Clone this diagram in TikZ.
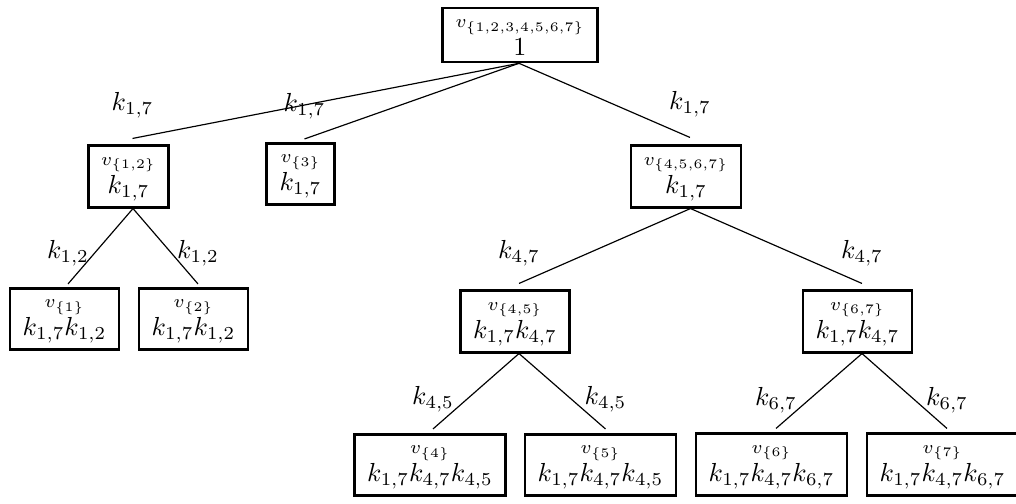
\documentclass[tikz,border=0pt]{standalone}
\usetikzlibrary{calc}
\newcommand\vset[1]{\rule{0pt}{5pt}$\scriptstyle v_{\{#1\}}$}
\begin{document}
\begin{tikzpicture}[x=0.3833pt,y=-0.3833pt,
  box/.style={draw,line width=1pt,inner xsep=4.9pt,inner ysep=2.5pt,align=center,
    font=\fontsize{10}{10.7}\selectfont},
  edge/.style={line width=0.45pt},
  lbl/.style={inner sep=0pt}]
\useasboundingbox (0,0) rectangle (1016,504);
% nodes
\node[box] (root) at (520,35) {\vset{1,2,3,4,5,6,7}\\$1$};
\node[box] (v12) at (128.5,176.5) {\vset{1,2}\\$k_{1,7}$};
\node[box] (v3) at (300.5,174) {\vset{3}\\$k_{1,7}$};
\node[box] (v4567) at (686,176.5) {\vset{4,5,6,7}\\$k_{1,7}$};
\node[box] (v1) at (64.5,319) {\vset{1}\\$k_{1,7}k_{1,2}$};
\node[box] (v2) at (193.5,319) {\vset{2}\\$k_{1,7}k_{1,2}$};
\node[box] (v45) at (515,321.5) {\vset{4,5}\\$k_{1,7}k_{4,7}$};
\node[box] (v67) at (857.5,321.5) {\vset{6,7}\\$k_{1,7}k_{4,7}$};
\node[box] (v4) at (430,465) {\vset{4}\\$k_{1,7}k_{4,7}k_{4,5}$};
\node[box] (v5) at (600.5,465) {\vset{5}\\$k_{1,7}k_{4,7}k_{4,5}$};
\node[box] (v6) at (771.5,464.5) {\vset{6}\\$k_{1,7}k_{4,7}k_{6,7}$};
\node[box] (v7) at (942.5,464.5) {\vset{7}\\$k_{1,7}k_{4,7}k_{6,7}$};
% level 1 edges
\draw[edge] ($(root.south)+(-1,0)$) -- ($(v12.north)+(4,-6)$) coordinate (t12);
\draw[edge] ($(root.south)+(-1,0)$) -- ($(v3.north)+(4,-3)$) coordinate (t3);
\draw[edge] ($(root.south)+(-1,0)$) -- ($(v4567.north)+(4,-7)$) coordinate (t4567);
\node[lbl] (l12) at ($(t12)+(0,-33)$) {$k_{1,7}$};
\node[lbl] (l3) at ($(t3)+(0,-33)$) {$k_{1,7}$};
\node[lbl] (l4567) at ($(t4567)+(0,-33)$) {$k_{1,7}$};
% level 2 edges
\draw[edge] ($(v12.south)+(4.5,0)$) -- ($(v1.north)+(3.5,-3)$) coordinate (t1);
\draw[edge] ($(v12.south)+(4.5,0)$) -- ($(v2.north)+(4.5,-3)$) coordinate (t2);
\draw[edge] ($(v4567.south)+(4.5,0)$) -- ($(v45.north)+(4,-6)$) coordinate (t45);
\draw[edge] ($(v4567.south)+(4.5,0)$) -- ($(v67.north)+(4.5,-6)$) coordinate (t67);
\node[lbl] (l1) at ($(t1)+(0,-30.5)$) {$k_{1,2}$};
\node[lbl] (l2) at ($(t2)+(0,-30.5)$) {$k_{1,2}$};
\node[lbl] (l45) at ($(t45)+(0,-30.5)$) {$k_{4,7}$};
\node[lbl] (l67) at ($(t67)+(0,-30.5)$) {$k_{4,7}$};
% level 3 edges
\draw[edge] ($(v45.south)+(4,0)$) -- ($(v4.north)+(3,-4)$) coordinate (t4);
\draw[edge] ($(v45.south)+(4,0)$) -- ($(v5.north)+(5,-4)$) coordinate (t5);
\draw[edge] ($(v67.south)+(4.5,0)$) -- ($(v6.north)+(4.5,-4)$) coordinate (t6);
\draw[edge] ($(v67.south)+(4.5,0)$) -- ($(v7.north)+(4.5,-4)$) coordinate (t7);
\node[lbl] (l4) at ($(t4)+(0,-29.5)$) {$k_{4,5}$};
\node[lbl] (l5) at ($(t5)+(0,-29.5)$) {$k_{4,5}$};
\node[lbl] (l6) at ($(t6)+(0,-28.5)$) {$k_{6,7}$};
\node[lbl] (l7) at ($(t7)+(0,-28.5)$) {$k_{6,7}$};
\end{tikzpicture}
\end{document}
